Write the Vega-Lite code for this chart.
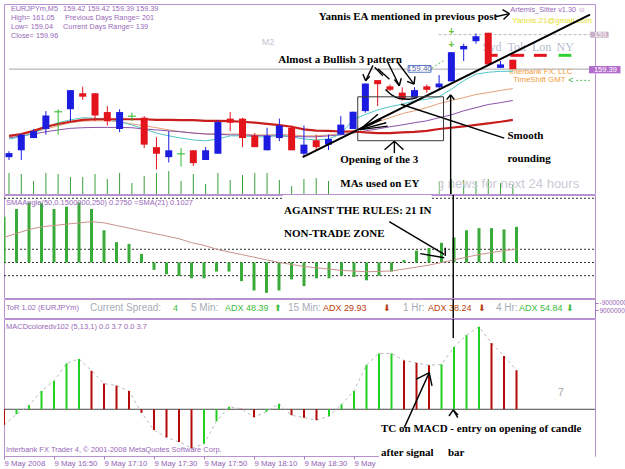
{
"$schema":"https://vega.github.io/schema/vega-lite/v6.json",
"background":"white",
"padding":{"left":3,"top":3,"right":0,"bottom":0},
"bounds":"flush",
"spacing":1,
"config":{
 "view":{"stroke":"#b892d0","strokeWidth":1},
 "axis":{"labelFont":"Liberation Sans","labelFontSize":7.5,"labelColor":"#9463b6","tickColor":"#a37cc2","domainColor":"#a37cc2","grid":false,"labelOverlap":false,"tickSize":3,"labelPadding":1,"labelFlush":false}
},
"datasets":{
"bars":[
{"i":0,"o":159.109,"h":159.128,"l":159.1,"c":159.122,"d":"up","vol":21,"maR":159.177,"maC":159.167,"maO":159.174,"maP":159.17,"hist":0.346,"sma":0.19,"macd":-1.6,"mcol":"r"},
{"i":1,"o":159.131,"h":159.183,"l":159.1,"c":159.181,"d":"up","vol":20,"maR":159.183,"maC":159.174,"maO":159.18,"maP":159.177,"hist":0.405,"sma":0.22,"macd":-0.5,"mcol":"g"},
{"i":2,"o":159.17,"h":159.199,"l":159.17,"c":159.192,"d":"up","vol":13,"maR":159.193,"maC":159.186,"maO":159.19,"maP":159.183,"hist":0.454,"sma":0.25,"macd":0.4,"mcol":"g"},
{"i":3,"o":159.199,"h":159.256,"l":159.181,"c":159.242,"d":"up","vol":21,"maR":159.206,"maC":159.203,"maO":159.199,"maP":159.19,"hist":0.449,"sma":0.27,"macd":1.85,"mcol":"g"},
{"i":4,"o":159.254,"h":159.262,"l":159.181,"c":159.254,"d":"doji","vol":20,"maR":159.215,"maC":159.219,"maO":159.209,"maP":159.196,"hist":0.405,"sma":0.28,"macd":2.86,"mcol":"g"},
{"i":5,"o":159.262,"h":159.323,"l":159.224,"c":159.323,"d":"up","vol":17,"maR":159.222,"maC":159.228,"maO":159.219,"maP":159.201,"hist":0.423,"sma":0.29,"macd":4.65,"mcol":"g"},
{"i":6,"o":159.313,"h":159.334,"l":159.292,"c":159.302,"d":"down","vol":17,"maR":159.228,"maC":159.235,"maO":159.224,"maP":159.203,"hist":0.454,"sma":0.3,"macd":5.1,"mcol":"g"},
{"i":7,"o":159.313,"h":159.313,"l":159.224,"c":159.242,"d":"down","vol":20,"maR":159.23,"maC":159.233,"maO":159.225,"maP":159.204,"hist":0.405,"sma":0.31,"macd":3.9,"mcol":"r"},
{"i":8,"o":159.253,"h":159.272,"l":159.21,"c":159.224,"d":"down","vol":15,"maR":159.23,"maC":159.232,"maO":159.225,"maP":159.204,"hist":0.244,"sma":0.3,"macd":2.6,"mcol":"r"},
{"i":9,"o":159.199,"h":159.262,"l":159.189,"c":159.253,"d":"up","vol":21,"maR":159.23,"maC":159.222,"maO":159.222,"maP":159.204,"hist":0.154,"sma":0.28,"macd":2.4,"mcol":"r"},
{"i":10,"o":159.24,"h":159.251,"l":159.224,"c":159.24,"d":"doji","vol":11,"maR":159.23,"maC":159.212,"maO":159.215,"maP":159.203,"hist":0.141,"sma":0.26,"macd":1.85,"mcol":"r"},
{"i":11,"o":159.235,"h":159.24,"l":159.138,"c":159.149,"d":"down","vol":18,"maR":159.23,"maC":159.199,"maO":159.209,"maP":159.199,"hist":0.064,"sma":0.24,"macd":-0.35,"mcol":"r"},
{"i":12,"o":159.141,"h":159.173,"l":159.07,"c":159.12,"d":"down","vol":21,"maR":159.228,"maC":159.186,"maO":159.203,"maP":159.196,"hist":-0.056,"sma":0.22,"macd":-2.1,"mcol":"r"},
{"i":13,"o":159.109,"h":159.192,"l":159.092,"c":159.131,"d":"up","vol":23,"maR":159.228,"maC":159.177,"maO":159.196,"maP":159.193,"hist":-0.089,"sma":0.2,"macd":-2.85,"mcol":"r"},
{"i":14,"o":159.12,"h":159.138,"l":159.079,"c":159.12,"d":"doji","vol":13,"maR":159.227,"maC":159.17,"maO":159.19,"maP":159.19,"hist":-0.102,"sma":0.18,"macd":-3.3,"mcol":"r"},
{"i":15,"o":159.131,"h":159.131,"l":159.081,"c":159.09,"d":"down","vol":20,"maR":159.227,"maC":159.164,"maO":159.186,"maP":159.186,"hist":-0.12,"sma":0.15,"macd":-3.95,"mcol":"r"},
{"i":16,"o":159.1,"h":159.141,"l":159.1,"c":159.131,"d":"up","vol":10,"maR":159.225,"maC":159.161,"maO":159.183,"maP":159.183,"hist":-0.12,"sma":0.13,"macd":-3.5,"mcol":"g"},
{"i":17,"o":159.12,"h":159.227,"l":159.12,"c":159.221,"d":"up","vol":21,"maR":159.225,"maC":159.167,"maO":159.183,"maP":159.182,"hist":-0.069,"sma":0.1,"macd":-1.2,"mcol":"g"},
{"i":18,"o":159.232,"h":159.253,"l":159.192,"c":159.219,"d":"down","vol":14,"maR":159.224,"maC":159.177,"maO":159.183,"maP":159.18,"hist":-0.069,"sma":0.08,"macd":0.25,"mcol":"g"},
{"i":19,"o":159.232,"h":159.235,"l":159.141,"c":159.17,"d":"down","vol":19,"maR":159.222,"maC":159.177,"maO":159.183,"maP":159.18,"hist":-0.141,"sma":0.06,"macd":0.05,"mcol":"r"},
{"i":20,"o":159.178,"h":159.186,"l":159.141,"c":159.141,"d":"down","vol":21,"maR":159.219,"maC":159.174,"maO":159.18,"maP":159.178,"hist":-0.212,"sma":0.04,"macd":-0.8,"mcol":"r"},
{"i":21,"o":159.131,"h":159.203,"l":159.131,"c":159.178,"d":"up","vol":21,"maR":159.215,"maC":159.174,"maO":159.18,"maP":159.177,"hist":-0.23,"sma":0.02,"macd":-0.25,"mcol":"g"},
{"i":22,"o":159.17,"h":159.232,"l":159.16,"c":159.21,"d":"up","vol":14,"maR":159.211,"maC":159.18,"maO":159.182,"maP":159.177,"hist":-0.212,"sma":0,"macd":0.55,"mcol":"g"},
{"i":23,"o":159.203,"h":159.21,"l":159.131,"c":159.131,"d":"down","vol":8,"maR":159.206,"maC":159.174,"maO":159.18,"maP":159.175,"hist":-0.128,"sma":-0.015,"macd":-0.6,"mcol":"r"},
{"i":24,"o":159.12,"h":159.21,"l":159.111,"c":159.149,"d":"up","vol":15,"maR":159.198,"maC":159.167,"maO":159.177,"maP":159.174,"hist":-0.179,"sma":-0.03,"macd":-0.85,"mcol":"r"},
{"i":25,"o":159.163,"h":159.181,"l":159.132,"c":159.141,"d":"down","vol":16,"maR":159.194,"maC":159.164,"maO":159.177,"maP":159.174,"hist":-0.12,"sma":-0.04,"macd":-1.1,"mcol":"r"},
{"i":26,"o":159.149,"h":159.181,"l":159.132,"c":159.167,"d":"up","vol":13,"maR":159.193,"maC":159.167,"maO":159.18,"maP":159.177,"hist":-0.12,"sma":-0.05,"macd":-0.7,"mcol":"g"},
{"i":27,"o":159.181,"h":159.24,"l":159.181,"c":159.213,"d":"up","vol":15,"maR":159.191,"maC":159.183,"maO":159.183,"maP":159.18,"hist":-0.1,"sma":-0.06,"macd":0.5,"mcol":"g"},
{"i":28,"o":159.199,"h":159.254,"l":159.199,"c":159.254,"d":"up","vol":15,"maR":159.191,"maC":159.229,"maO":159.193,"maP":159.186,"hist":-0.11,"sma":-0.065,"macd":1.85,"mcol":"g"},
{"i":29,"o":159.256,"h":159.344,"l":159.251,"c":159.344,"d":"up","vol":18,"maR":159.188,"maC":159.245,"maO":159.206,"maP":159.193,"hist":-0.135,"sma":-0.07,"macd":4.5,"mcol":"g"},
{"i":30,"o":159.355,"h":159.355,"l":159.272,"c":159.342,"d":"down","vol":20,"maR":159.186,"maC":159.26,"maO":159.222,"maP":159.199,"hist":-0.1,"sma":-0.068,"macd":5.65,"mcol":"g"},
{"i":31,"o":159.335,"h":159.341,"l":159.32,"c":159.324,"d":"down","vol":14,"maR":159.186,"maC":159.27,"maO":159.235,"maP":159.206,"hist":-0.069,"sma":-0.064,"macd":5.65,"mcol":"g"},
{"i":32,"o":159.315,"h":159.332,"l":159.29,"c":159.294,"d":"down","vol":12,"maR":159.188,"maC":159.278,"maO":159.248,"maP":159.212,"hist":0.018,"sma":-0.05,"macd":4.95,"mcol":"r"},
{"i":33,"o":159.299,"h":159.332,"l":159.299,"c":159.323,"d":"up","vol":16,"maR":159.19,"maC":159.289,"maO":159.257,"maP":159.219,"hist":0.09,"sma":-0.035,"macd":4.7,"mcol":"r"},
{"i":34,"o":159.335,"h":159.341,"l":159.315,"c":159.324,"d":"down","vol":13,"maR":159.193,"maC":159.294,"maO":159.267,"maP":159.225,"hist":0.11,"sma":-0.02,"macd":4.45,"mcol":"r"},
{"i":35,"o":159.332,"h":159.371,"l":159.324,"c":159.344,"d":"up","vol":13,"maR":159.199,"maC":159.302,"maO":159.28,"maP":159.235,"hist":0.149,"sma":0,"macd":4.55,"mcol":"g"},
{"i":36,"o":159.351,"h":159.444,"l":159.351,"c":159.444,"d":"up","vol":15,"maR":159.203,"maC":159.326,"maO":159.29,"maP":159.244,"hist":0.19,"sma":0.02,"macd":6.3,"mcol":"g"},
{"i":37,"o":159.453,"h":159.471,"l":159.416,"c":159.464,"d":"up","vol":14,"maR":159.207,"maC":159.353,"maO":159.299,"maP":159.257,"hist":0.244,"sma":0.04,"macd":7.5,"mcol":"g"},
{"i":38,"o":159.479,"h":159.504,"l":159.471,"c":159.495,"d":"up","vol":13,"maR":159.212,"maC":159.374,"maO":159.309,"maP":159.267,"hist":0.26,"sma":0.06,"macd":8.35,"mcol":"g"},
{"i":39,"o":159.506,"h":159.506,"l":159.405,"c":159.405,"d":"down","vol":15,"maR":159.217,"maC":159.38,"maO":159.315,"maP":159.277,"hist":0.26,"sma":0.075,"macd":6.7,"mcol":"r"},
{"i":40,"o":159.394,"h":159.416,"l":159.394,"c":159.405,"d":"up","vol":11,"maR":159.222,"maC":159.383,"maO":159.322,"maP":159.283,"hist":0.25,"sma":0.09,"macd":5.4,"mcol":"r"},
{"i":41,"o":159.42,"h":159.42,"l":159.39,"c":159.39,"d":"down","vol":9,"maR":159.228,"maC":159.383,"maO":159.328,"maP":159.29,"hist":0.27,"sma":0.1,"macd":3.95,"mcol":"r"}
],
"info":[
{"i":0.16,"p":159.582,"t":"EURJPYm,M5"},
{"i":4.4,"p":159.582,"t":"159.42 159.42 159.39 159.39"},
{"i":0.16,"p":159.554,"t":"High= 161.05"},
{"i":4.56,"p":159.554,"t":"Previous Days Range= 201"},
{"i":0.16,"p":159.524,"t":"Low= 159.04"},
{"i":4.4,"p":159.524,"t":"Current Days Range= 139"},
{"i":0.16,"p":159.495,"t":"Close= 159.96"},
{"i":40.8,"p":159.58,"t":"Artemis_Sitter v1.30 ☺"}
],
"seg1":[
{"i":39.6,"p":159.557,"i2":40.72,"p2":159.567},
{"i":40.16,"p":159.58,"i2":40.72,"p2":159.567},
{"i":40.24,"p":159.548,"i2":40.72,"p2":159.567},
{"i":29.62,"p":159.402,"i2":29.02,"p2":159.353},
{"i":28.8,"p":159.374,"i2":29.02,"p2":159.353},
{"i":29.36,"p":159.367,"i2":29.02,"p2":159.353},
{"i":29.76,"p":159.396,"i2":30.42,"p2":159.369},
{"i":30.02,"p":159.391,"i2":30.96,"p2":159.358},
{"i":30.82,"p":159.412,"i2":31.76,"p2":159.337},
{"i":31.36,"p":159.357,"i2":31.76,"p2":159.337},
{"i":31.92,"p":159.361,"i2":31.76,"p2":159.337},
{"i":31.62,"p":159.412,"i2":32.96,"p2":159.342},
{"i":32.4,"p":159.351,"i2":32.96,"p2":159.342},
{"i":33.04,"p":159.367,"i2":32.96,"p2":159.342},
{"i":28.56,"p":159.197,"i2":30.02,"p2":159.246},
{"i":28.56,"p":159.197,"i2":30.3,"p2":159.229},
{"i":28.56,"p":159.197,"i2":30.7,"p2":159.219},
{"i":28.56,"p":159.197,"i2":30.82,"p2":159.208},
{"i":31.9,"p":159.278,"i2":40.3,"p2":159.17},
{"i":31.36,"p":159.1597,"i2":31.36,"p2":159.1219},
{"i":30.56,"p":159.1326,"i2":31.36,"p2":159.1597},
{"i":32.1,"p":159.1326,"i2":31.36,"p2":159.1597},
{"i":35.94,"p":159.308,"i2":35.94,"p2":158.9915},
{"i":35.62,"p":159.293,"i2":35.94,"p2":159.308},
{"i":36.24,"p":159.293,"i2":35.94,"p2":159.308}
],
"bold1":[
{"i":25.2,"p":159.557,"t":"Yannis EA mentioned in previous post"},
{"i":21.92,"p":159.419,"t":"Almost a Bullish 3 pattern"},
{"i":40.56,"p":159.176,"t":"Smooth"},
{"i":40.56,"p":159.103,"t":"rounding"},
{"i":26.96,"p":159.1,"t":"Opening of the 3"}
],
"strip":[
{"i":6.88,"s":0.105,"t":"Current Spread:"},
{"i":14.96,"s":0.105,"t":"5 Min:"},
{"i":22.72,"s":0.105,"t":"15 Min:"},
{"i":31.92,"s":0.105,"t":"1 Hr:"},
{"i":39.36,"s":0.105,"t":"4 Hr:"}
],
"stripGreen":[
{"i":13.52,"s":0.105,"t":"4"},
{"i":17.68,"s":0.105,"t":"ADX 48.39"},
{"i":41.2,"s":0.105,"t":"ADX 54.84"}
],
"stripRed":[
{"i":25.52,"s":0.105,"t":"ADX 29.93"},
{"i":33.92,"s":0.105,"t":"ADX 38.24"}
],
"seg4":[
{"i":35.94,"m":9.14,"i2":35.94,"m2":7.22},
{"i":32.02,"m":-1.86,"i2":34.02,"m2":3.71},
{"i":32.96,"m":3.04,"i2":34.02,"m2":3.71},
{"i":34.24,"m":2.36,"i2":34.02,"m2":3.71},
{"i":36.3,"m":-0.85,"i2":35.94,"m2":-0.07},
{"i":35.6,"m":-0.68,"i2":35.94,"m2":-0.07},
{"i":36.32,"m":-0.58,"i2":35.94,"m2":-0.07}
]
},
"vconcat":[
{
"width":591,"height":190,
"resolve":{"scale":{"y":"independent"}},
"layer":[
 {"data":{"name":"bars"},"mark":{"type":"rule","color":"#3a9e3a","strokeWidth":1},
  "encoding":{"x":{"field":"i","type":"quantitative","scale":{"domain":[0,47.28],"nice":false,"zero":false},"axis":null},
   "y":{"field":"vol","type":"quantitative","scale":{"domain":[0,190],"nice":false,"zero":false},"axis":null},"y2":{"datum":0}}},
 {"encoding":{
   "x":{"field":"i","type":"quantitative","scale":{"domain":[0,47.28],"nice":false,"zero":false},"axis":null},
   "y":{"field":"p","type":"quantitative","scale":{"domain":[158.9915,159.5978],"nice":false,"zero":false},"axis":{"orient":"right","values":[159.05,159.15,159.25,159.35,159.45,159.55],"format":".2f","title":null}}},
  "layer":[
   {"data":{"values":[{"i":0,"i2":47.28,"p":159.39}]},"mark":{"type":"rule","color":"#a6a6a6","strokeWidth":1},"encoding":{"x2":{"field":"i2"}}},
   {"data":{"values":[{"i":34.96,"i2":47.28,"p":159.5}]},"mark":{"type":"rule","color":"#b8b8b8","strokeWidth":1,"strokeDash":[3,2]},"encoding":{"x2":{"field":"i2"}}},
   {"data":{"name":"info"},"mark":{"type":"text","align":"left","baseline":"middle","font":"Liberation Sans","fontSize":7.3,"color":"#9868b8"},"encoding":{"text":{"field":"t"}}},
   {"data":{"values":[{"i":20.56,"p":159.477,"t":"M2"}]},"mark":{"type":"text","align":"left","baseline":"middle","font":"Liberation Sans","fontSize":9,"color":"#c4c4d4"},"encoding":{"text":{"field":"t"}}},
   {"data":{"values":[{"i":46.4,"p":159.022,"t":"ng news for next 24 hours"}]},"mark":{"type":"text","align":"right","baseline":"middle","font":"Liberation Sans","fontSize":13,"color":"#cacad4"},"encoding":{"text":{"field":"t"}}},
   {"data":{"values":[{"i":38.56,"p":159.461,"t":"Syd"},{"i":40.56,"p":159.461,"t":"Tok"},{"i":42.56,"p":159.461,"t":"Lon"},{"i":44.56,"p":159.461,"t":"NY"}]},"mark":{"type":"text","align":"left","baseline":"middle","font":"Liberation Serif","fontSize":12,"color":"#b6bece"},"encoding":{"text":{"field":"t"}}},
   {"data":{"values":[{"i":39.2,"i2":39.76,"p":159.434},{"i":40.8,"i2":41.92,"p":159.434},{"i":42.72,"i2":43.76,"p":159.434}]},"mark":{"type":"rule","color":"#e4141c","strokeWidth":3},"encoding":{"x2":{"field":"i2"}}},
   {"data":{"values":[{"i":44.72,"i2":45.76,"p":159.434}]},"mark":{"type":"rule","color":"#30d030","strokeWidth":3},"encoding":{"x2":{"field":"i2"}}},
   {"data":{"values":[{"i":40.7,"p":159.38,"t":"Interbank FX, LLC"},{"i":41.04,"p":159.354,"t":"TimeShift GMT"}]},"mark":{"type":"text","align":"left","baseline":"middle","font":"Liberation Sans","fontSize":7.8,"color":"#f09a3a"},"encoding":{"text":{"field":"t"}}},
   {"data":{"values":[{"i":45.5,"p":159.354,"t":"<"}]},"mark":{"type":"text","align":"left","baseline":"middle","font":"Liberation Sans","fontSize":9,"color":"#40b040"},"encoding":{"text":{"field":"t"}}},
   {"data":{"values":[{"i":46.16,"i2":47.28,"p":159.354,"p2":159.354},{"i":34.4,"i2":35.44,"p":159.393,"p2":159.419}]},"mark":{"type":"rule","color":"#5cbf5c","strokeWidth":1,"strokeDash":[2,2]},"encoding":{"x2":{"field":"i2"},"y2":{"field":"p2"}}},
   {"data":{"values":[{"i":40.96,"p":159.544,"t":"Yannis.21@gmail.com"}]},"mark":{"type":"text","align":"left","baseline":"middle","font":"Liberation Sans","fontSize":8,"color":"#e6de2c"},"encoding":{"text":{"field":"t"}}},
   {"data":{"name":"bars"},"mark":{"type":"line","color":"#e6a07a","strokeWidth":1,"clip":true},"encoding":{"y":{"field":"maO","type":"quantitative","scale":{"domain":[158.9915,159.5978],"nice":false,"zero":false},"axis":null}}},
   {"data":{"name":"bars"},"mark":{"type":"line","color":"#8a52a8","strokeWidth":1,"clip":true},"encoding":{"y":{"field":"maP","type":"quantitative","scale":{"domain":[158.9915,159.5978],"nice":false,"zero":false},"axis":null}}},
   {"data":{"name":"bars"},"mark":{"type":"line","color":"#52c6c6","strokeWidth":1,"clip":true},"encoding":{"y":{"field":"maC","type":"quantitative","scale":{"domain":[158.9915,159.5978],"nice":false,"zero":false},"axis":null}}},
   {"data":{"name":"bars"},"mark":{"type":"line","color":"#c81e1e","strokeWidth":2.2,"clip":true},"encoding":{"y":{"field":"maR","type":"quantitative","scale":{"domain":[158.9915,159.5978],"nice":false,"zero":false},"axis":null}}},
   {"data":{"name":"bars"},"transform":[{"filter":"datum.d == 'up'"}],"mark":{"type":"rule","color":"#1c1ce0","strokeWidth":1,"clip":true},"encoding":{"y":{"field":"l","type":"quantitative","scale":{"domain":[158.9915,159.5978],"nice":false,"zero":false},"axis":null},"y2":{"field":"h"}}},
   {"data":{"name":"bars"},"transform":[{"filter":"datum.d == 'down'"}],"mark":{"type":"rule","color":"#e4141c","strokeWidth":1,"clip":true},"encoding":{"y":{"field":"l","type":"quantitative","scale":{"domain":[158.9915,159.5978],"nice":false,"zero":false},"axis":null},"y2":{"field":"h"}}},
   {"data":{"name":"bars"},"transform":[{"filter":"datum.d == 'doji'"}],"mark":{"type":"rule","color":"#2fb82f","strokeWidth":1,"clip":true},"encoding":{"y":{"field":"l","type":"quantitative","scale":{"domain":[158.9915,159.5978],"nice":false,"zero":false},"axis":null},"y2":{"field":"h"}}},
   {"data":{"name":"bars"},"transform":[{"filter":"datum.d == 'up'"}],"mark":{"type":"bar","color":"#1c1ce0","size":7,"clip":true},"encoding":{"y":{"field":"o","type":"quantitative","scale":{"domain":[158.9915,159.5978],"nice":false,"zero":false},"axis":null},"y2":{"field":"c"}}},
   {"data":{"name":"bars"},"transform":[{"filter":"datum.d == 'down'"}],"mark":{"type":"bar","color":"#e4141c","size":7,"clip":true},"encoding":{"y":{"field":"o","type":"quantitative","scale":{"domain":[158.9915,159.5978],"nice":false,"zero":false},"axis":null},"y2":{"field":"c"}}},
   {"data":{"name":"bars"},"transform":[{"filter":"datum.d == 'doji'"}],"mark":{"type":"tick","orient":"horizontal","color":"#2fb82f","size":8,"thickness":1.5},"encoding":{"y":{"field":"o","type":"quantitative","scale":{"domain":[158.9915,159.5978],"nice":false,"zero":false},"axis":null}}},
   {"data":{"values":[{"i":36,"p":159.508,"t":"+"},{"i":36,"p":159.467,"t":"+"}]},"mark":{"type":"text","align":"center","baseline":"middle","font":"Liberation Sans","fontSize":10,"fontWeight":"bold","color":"#66c23a"},"encoding":{"text":{"field":"t"}}},
   {"data":{"values":[{"i":32.48,"i2":34.34,"p":159.4016,"p2":159.38}]},"mark":{"type":"rect","fill":"white","stroke":"#5a7ac8","strokeWidth":1},"encoding":{"x2":{"field":"i2"},"y2":{"field":"p2"}}},
   {"data":{"values":[{"i":33.41,"p":159.391,"t":"159.40"}]},"mark":{"type":"text","align":"center","baseline":"middle","font":"Liberation Sans","fontSize":8,"color":"#5a6aa8"},"encoding":{"text":{"field":"t"}}},
   {"data":{"name":"seg1"},"mark":{"type":"rule","color":"black","strokeWidth":1.4,"clip":true},"encoding":{"x2":{"field":"i2"},"y2":{"field":"p2"}}},
   {"data":{"values":[{"i":23.9,"p":159.109,"i2":47.28,"p2":159.564}]},"mark":{"type":"rule","color":"black","strokeWidth":2,"clip":true},"encoding":{"x2":{"field":"i2"},"y2":{"field":"p2"}}},
   {"data":{"values":[{"i":30.64,"p":159.325},{"i":31.2,"p":159.306},{"i":31.76,"p":159.296},{"i":32.56,"p":159.294},{"i":33.2,"p":159.299}]},"mark":{"type":"line","color":"black","strokeWidth":1.5,"interpolate":"monotone"}},
   {"data":{"values":[{"i":28.38,"i2":35.36,"p":159.3016,"p2":159.1616}]},"mark":{"type":"rect","fill":null,"fillOpacity":0,"stroke":"#3a3a3a","strokeWidth":1},"encoding":{"x2":{"field":"i2"},"y2":{"field":"p2"}}},
   {"data":{"name":"bold1"},"mark":{"type":"text","align":"left","baseline":"middle","font":"Liberation Serif","fontSize":11,"fontWeight":"bold","color":"black"},"encoding":{"text":{"field":"t"}}},
   {"data":{"values":[{"i":26.8,"i2":34.96,"p":159.0574,"p2":158.9915}]},"mark":{"type":"rect","color":"white"},"encoding":{"x2":{"field":"i2"},"y2":{"field":"p2"}}},
   {"data":{"values":[{"i":26.96,"p":159.025,"t":"MAs used on EY"}]},"mark":{"type":"text","align":"left","baseline":"middle","font":"Liberation Serif","fontSize":11,"fontWeight":"bold","color":"black"},"encoding":{"text":{"field":"t"}}},
   {"data":{"values":[{"i":47.2,"i2":49.76,"p":159.3999,"p2":159.3766}]},"mark":{"type":"rect","color":"#b46ccc","clip":false},"encoding":{"x2":{"field":"i2"},"y2":{"field":"p2"}}},
   {"data":{"values":[{"i":47.3,"i2":48.8,"p":159.5094,"p2":159.4902}]},"mark":{"type":"rect","color":"#c9aec6","clip":false},"encoding":{"x2":{"field":"i2"},"y2":{"field":"p2"}}},
   {"data":{"values":[{"i":47.6,"p":159.388,"t":"159.39"},{"i":47.6,"p":159.5,"t":"159.50"}]},"mark":{"type":"text","align":"left","baseline":"middle","font":"Liberation Sans","fontSize":7.5,"color":"white","clip":false},"encoding":{"text":{"field":"t"}}}
  ]}
]
},
{
"width":591,"height":103,
"encoding":{
 "x":{"field":"i","type":"quantitative","scale":{"domain":[0,47.28],"nice":false,"zero":false},"axis":null},
 "y":{"field":"v","type":"quantitative","scale":{"domain":[-0.269,0.511],"nice":false,"zero":false},"axis":{"orient":"right","values":[0.473,0.1,0,-0.1,-0.217],"labelExpr":"datum.value > 0.4 ? '0.5315' : datum.value < -0.2 ? '-0.2715' : datum.value == 0 ? '0.00' : datum.value > 0 ? '0.1' : '-0.1'","title":null}}},
"layer":[
 {"data":{"values":[{"i":0,"i2":47.28,"v":0.486},{"i":0,"i2":47.28,"v":0.1},{"i":0,"i2":47.28,"v":0},{"i":0,"i2":47.28,"v":-0.1}]},"mark":{"type":"rule","color":"#303030","strokeWidth":1,"strokeDash":[2,2]},"encoding":{"x2":{"field":"i2"}}},
 {"data":{"values":[{"i":22.3,"i2":34.2,"v":0.511,"v2":0.36}]},"mark":{"type":"rect","color":"white"},"encoding":{"x2":{"field":"i2"},"y2":{"field":"v2"}}},
 {"data":{"name":"bars"},"mark":{"type":"rule","color":"#3aaa3a","strokeWidth":3,"clip":true},"encoding":{"y":{"field":"hist","type":"quantitative","scale":{"domain":[-0.269,0.511],"nice":false,"zero":false},"axis":null},"y2":{"datum":0}}},
 {"data":{"name":"bars"},"mark":{"type":"line","color":"#c9928a","strokeWidth":1,"clip":true},"encoding":{"y":{"field":"sma","type":"quantitative","scale":{"domain":[-0.269,0.511],"nice":false,"zero":false},"axis":null}}},
 {"data":{"values":[{"i":0.16,"v":0.453,"t":"SMAAngle(50,0.1500000,250) 0.2750  =SMA(21) 0.1027"}]},"mark":{"type":"text","align":"left","baseline":"middle","font":"Liberation Sans","fontSize":7.5,"color":"#9868b8"},"encoding":{"text":{"field":"t"}}},
 {"data":{"values":[{"i":30.82,"v":0.309,"i2":35.22,"v2":0.062},{"i":33.3,"v":0.067,"i2":35.22,"v2":0.036},{"i":35.3,"v":0.112,"i2":35.3,"v2":0.049},{"i":35.94,"v":0.511,"i2":35.94,"v2":-0.269}]},"mark":{"type":"rule","color":"black","strokeWidth":1.4},"encoding":{"x2":{"field":"i2"},"y2":{"field":"v2"}}},
 {"data":{"values":[{"i":22.4,"v":0.39,"t":"AGAINST THE RULES: 21 IN"},{"i":22.4,"v":0.216,"t":"NON-TRADE ZONE"}]},"mark":{"type":"text","align":"left","baseline":"middle","font":"Liberation Serif","fontSize":11,"fontWeight":"bold","color":"black"},"encoding":{"text":{"field":"t"}}}
]
},
{
"width":591,"height":19,
"encoding":{
 "x":{"field":"i","type":"quantitative","scale":{"domain":[0,47.28],"nice":false,"zero":false},"axis":null},
 "y":{"field":"s","type":"quantitative","scale":{"domain":[-1,1],"nice":false,"zero":false},"axis":{"orient":"right","values":[0.58,-0.16],"labelExpr":"datum.value > 0 ? '-9000000' : '9000000'","labelFontSize":6.5,"title":null}}},
"layer":[
 {"data":{"values":[{"i":0.16,"s":0.105,"t":"ToR 1.02 (EURJPYm)"}]},"mark":{"type":"text","align":"left","baseline":"middle","font":"Liberation Sans","fontSize":7.5,"color":"#9868b8"},"encoding":{"text":{"field":"t"}}},
 {"data":{"name":"strip"},"mark":{"type":"text","align":"left","baseline":"middle","font":"Liberation Sans","fontSize":10,"color":"#a6adb6"},"encoding":{"text":{"field":"t"}}},
 {"data":{"name":"stripGreen"},"mark":{"type":"text","align":"left","baseline":"middle","font":"Liberation Sans","fontSize":9,"color":"#3cbc3c"},"encoding":{"text":{"field":"t"}}},
 {"data":{"name":"stripRed"},"mark":{"type":"text","align":"left","baseline":"middle","font":"Liberation Sans","fontSize":9,"color":"#b8400e"},"encoding":{"text":{"field":"t"}}},
 {"data":{"values":[{"i":21.6,"s":0.105,"t":"⬆"},{"i":44.96,"s":0.105,"t":"⬇"}]},"mark":{"type":"text","align":"left","baseline":"middle","font":"DejaVu Sans","fontSize":9,"color":"#3cbc3c"},"encoding":{"text":{"field":"t"}}},
 {"data":{"values":[{"i":30.32,"s":0.105,"t":"⬇"},{"i":37.92,"s":0.105,"t":"⬇"}]},"mark":{"type":"text","align":"left","baseline":"middle","font":"DejaVu Sans","fontSize":9,"color":"#b8400e"},"encoding":{"text":{"field":"t"}}},
 {"data":{"values":[{"i":35.94,"s":1,"i2":35.94,"s2":-1}]},"mark":{"type":"rule","color":"black","strokeWidth":1.4},"encoding":{"x2":{"field":"i2"},"y2":{"field":"s2"}}}
]
},
{
"width":591,"height":137,
"encoding":{
 "x":{"field":"i","type":"quantitative","scale":{"domain":[0,47.28],"nice":false,"zero":false},"axis":{"orient":"bottom","values":[0,4,8,12,16,20,24,28],"labelExpr":"datum.value == 0 ? '9 May 2008' : datum.value == 4 ? '9 May 16:50' : datum.value == 8 ? '9 May 17:10' : datum.value == 12 ? '9 May 17:30' : datum.value == 16 ? '9 May 17:50' : datum.value == 20 ? '9 May 18:10' : datum.value == 24 ? '9 May 18:30' : '9 May 18:50'","labelAlign":"left","labelBaseline":"top","labelFontSize":7.8,"labelPadding":0,"domain":false,"title":null,"zindex":0}},
 "y":{"field":"m","type":"quantitative","scale":{"domain":[-4.73,9.14],"nice":false,"zero":false},"axis":{"orient":"right","values":[8.5,0,-4.4],"labelExpr":"datum.value == 0 ? '0.00' : datum.value > 0 ? '8.5' : '-4.4'","title":null}}},
"layer":[
 {"data":{"values":[{"i":0,"i2":47.28,"m":0}]},"mark":{"type":"rule","color":"#4a4a4a","strokeWidth":1},"encoding":{"x2":{"field":"i2"}}},
 {"data":{"name":"bars"},"mark":{"type":"line","color":"#bcbcbc","strokeWidth":1,"strokeDash":[3,3],"clip":true},"encoding":{"y":{"field":"macd","type":"quantitative","scale":{"domain":[-4.73,9.14],"nice":false,"zero":false},"axis":null}}},
 {"data":{"name":"bars"},"transform":[{"filter":"datum.mcol == 'g'"}],"mark":{"type":"rule","color":"#22d022","strokeWidth":2,"clip":true},"encoding":{"y":{"field":"macd","type":"quantitative","scale":{"domain":[-4.73,9.14],"nice":false,"zero":false},"axis":null},"y2":{"datum":0}}},
 {"data":{"name":"bars"},"transform":[{"filter":"datum.mcol == 'r'"}],"mark":{"type":"rule","color":"#b40a0a","strokeWidth":2,"clip":true},"encoding":{"y":{"field":"macd","type":"quantitative","scale":{"domain":[-4.73,9.14],"nice":false,"zero":false},"axis":null},"y2":{"datum":0}}},
 {"data":{"values":[{"i":0.16,"m":8.33,"t":"MACDcoloredv102 (5,13,1) 0.0 3.7 0.0 3.7"},{"i":0.16,"m":-4.12,"t":"Interbank FX Trader 4, © 2001-2008 MetaQuotes Software Corp."}]},"mark":{"type":"text","align":"left","baseline":"middle","font":"Liberation Sans","fontSize":7.5,"color":"#9868b8"},"encoding":{"text":{"field":"t"}}},
 {"data":{"values":[{"i":44.3,"m":1.65,"t":"7"}]},"mark":{"type":"text","align":"left","baseline":"middle","font":"Liberation Sans","fontSize":11,"color":"#a8a8a8"},"encoding":{"text":{"field":"t"}}},
 {"data":{"name":"seg4"},"mark":{"type":"rule","color":"black","strokeWidth":1.4},"encoding":{"x2":{"field":"i2"},"y2":{"field":"m2"}}},
 {"data":{"values":[{"i":30.16,"m":-2.02,"t":"TC on MACD - entry on opening of candle"}]},"mark":{"type":"text","align":"left","baseline":"middle","font":"Liberation Serif","fontSize":11,"fontWeight":"bold","color":"black"},"encoding":{"text":{"field":"t"}}},
 {"data":{"values":[{"i":30.0,"i2":47.28,"m":-3.55,"m2":-6.4}]},"mark":{"type":"rect","color":"white","clip":false},"encoding":{"x2":{"field":"i2"},"y2":{"field":"m2"}}},
 {"data":{"values":[{"i":30.16,"m":-4.42,"t":"after signal"},{"i":35.52,"m":-4.42,"t":"bar"}]},"mark":{"type":"text","align":"left","baseline":"middle","font":"Liberation Serif","fontSize":11,"fontWeight":"bold","color":"black"},"encoding":{"text":{"field":"t"}}}
]
}
]
}
